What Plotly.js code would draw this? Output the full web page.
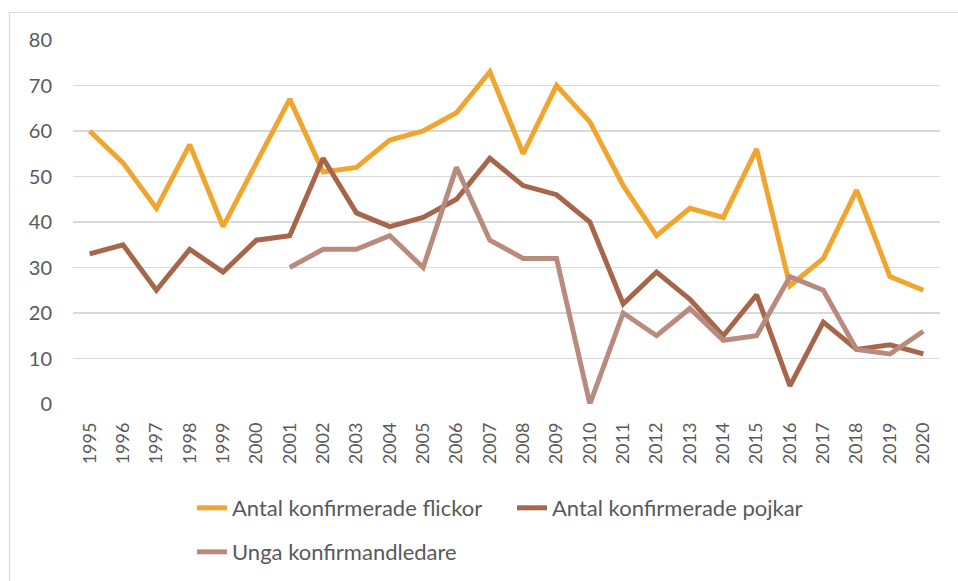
<!DOCTYPE html>
<html>
<head>
<meta charset="utf-8">
<script src="https://cdn.plot.ly/plotly-3.0.1.min.js"></script>
<style>html,body{margin:0;padding:0;background:#fff;}#chart{width:958px;height:581px;}</style>
</head>
<body>
<div id="chart"></div>
<script>
const years = ["1995","1996","1997","1998","1999","2000","2001","2002","2003","2004","2005","2006","2007","2008","2009","2010","2011","2012","2013","2014","2015","2016","2017","2018","2019","2020"];
const flickor = [60,53,43,57,39,53,67,51,52,58,60,64,73,55,70,62,48,37,43,41,56,26,32,47,28,25];
const pojkar = [33,35,25,34,29,36,37,54,42,39,41,45,54,48,46,40,22,29,23,15,24,4,18,12,13,11];
const ledare = [null,null,null,null,null,null,30,34,34,37,30,52,36,32,32,0,20,15,21,14,15,28,25,12,11,16];
const yTicks = [0,10,20,30,40,50,60,70,80];

const names = ["Antal konfirmerade flickor","Antal konfirmerade pojkar","Unga konfirmandledare"];
const colors = ["#F0A52F","#A6664B","#B98B7E"];

const traces = [
  {x: years, y: flickor, name: names[0], type: "scatter", mode: "lines", line: {color: colors[0], width: 5}, legend: "legend"},
  {x: years, y: pojkar, name: names[1], type: "scatter", mode: "lines", line: {color: colors[1], width: 5}, legend: "legend"},
  {x: years, y: ledare, name: names[2], type: "scatter", mode: "lines", line: {color: colors[2], width: 5}, legend: "legend2"}
];

const fam = "Lato, 'Open Sans', sans-serif";
const tickFontY = {family: fam, size: 20, color: "#595959"};
const tickFontX = {family: fam, size: 18, color: "#595959"};
const legFont = {family: fam, size: 22, color: "#595959"};

const layout = {
  width: 958, height: 581,
  margin: {l: 73, r: 18, t: 40, b: 177},
  paper_bgcolor: "#fff", plot_bgcolor: "#fff",
  font: tickFontY,
  showlegend: true,
  xaxis: {
    type: "category", range: [-0.5, years.length - 0.5], tickangle: -90, showgrid: false, zeroline: false,
    showline: false, ticks: "", tickfont: tickFontX, ticklabelstandoff: 14
  },
  yaxis: {
    range: [0, 80], tickvals: yTicks, ticktext: yTicks.map(String),
    showgrid: true, gridcolor: "#d9d9d9", gridwidth: 1.5, zeroline: false,
    showline: false, ticks: "", tickfont: tickFontY, ticklabelstandoff: 20
  },
  legend: {
    orientation: "h", xref: "container", yref: "container",
    x: 192/958, y: 1 - 508/581, xanchor: "left", yanchor: "middle",
    font: legFont, bgcolor: "rgba(0,0,0,0)", entrywidth: 275, entrywidthmode: "pixels"
  },
  legend2: {
    orientation: "h", xref: "container", yref: "container",
    x: 192/958, y: 1 - 552/581, xanchor: "left", yanchor: "middle",
    font: legFont, bgcolor: "rgba(0,0,0,0)"
  },
  shapes: [{
    type: "rect", xref: "paper", yref: "paper",
    x0: (9.5 - 73)/867, x1: (970 - 73)/867,
    y0: (404 - 600)/364, y1: (404 - 12.5)/364,
    line: {color: "#d9d9d9", width: 1.2}, fillcolor: "rgba(0,0,0,0)", layer: "below"
  }]
};

Plotly.newPlot("chart", traces, layout, {displayModeBar: false, staticPlot: true});
</script>
</body>
</html>
